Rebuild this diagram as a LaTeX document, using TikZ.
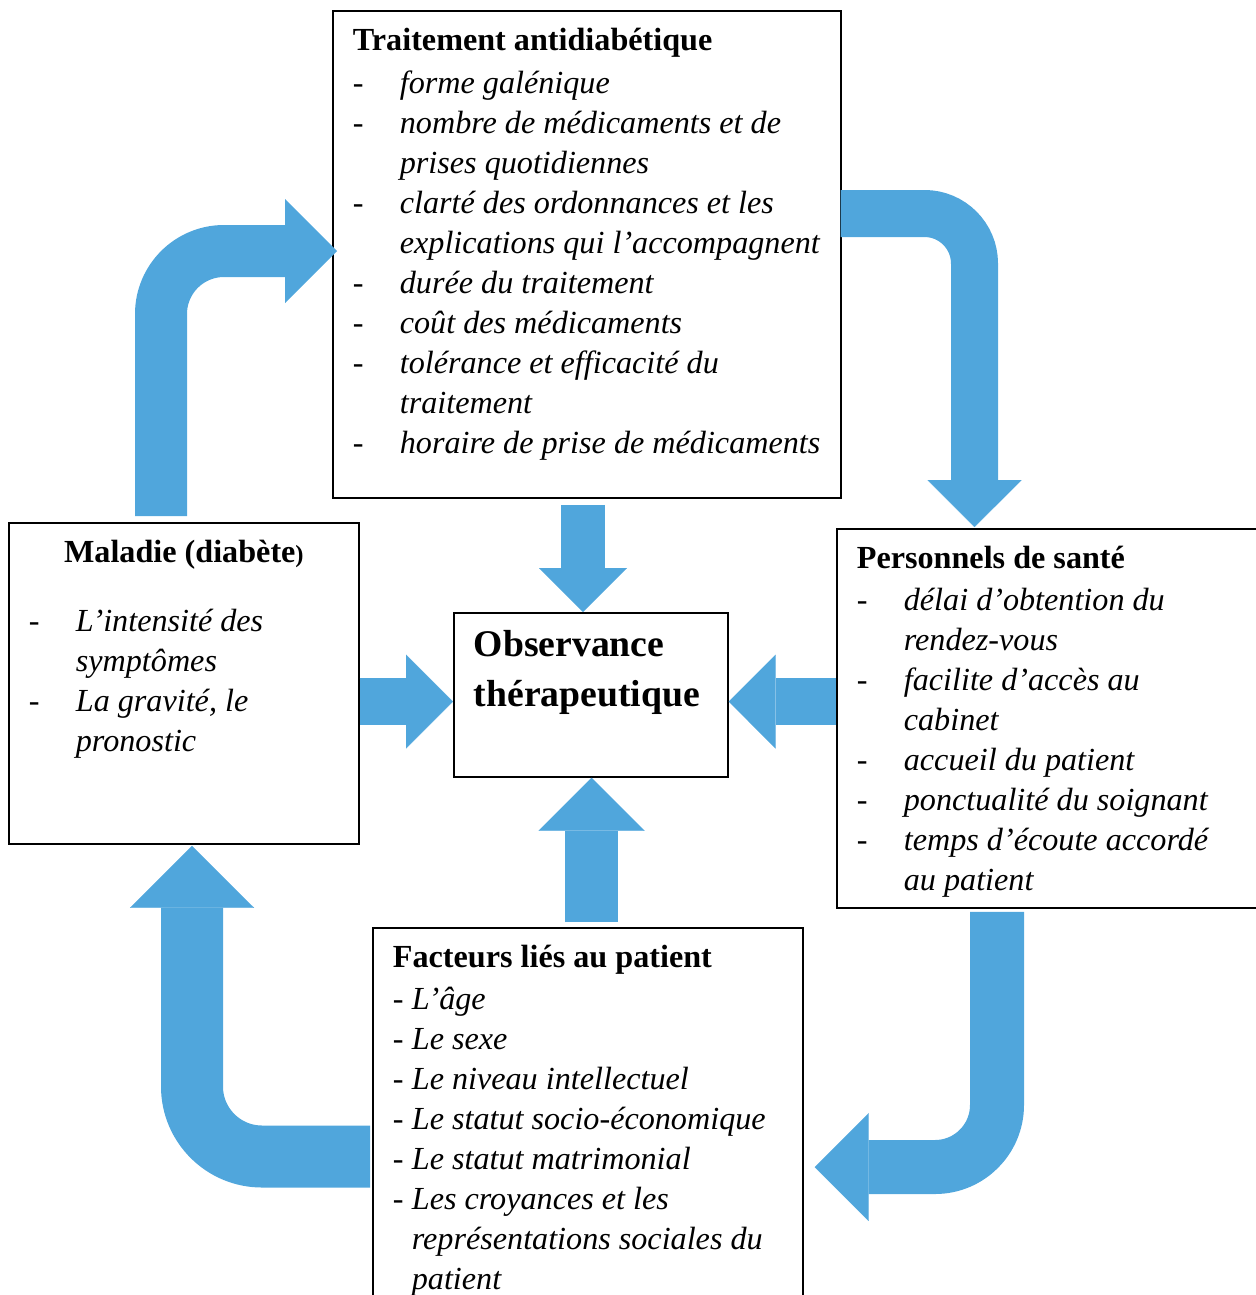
\documentclass[tikz,border=0pt]{standalone}
\usepackage{fontspec}
\setmainfont{Liberation Serif}
\usetikzlibrary{arrows.meta,calc}
\newdimen\pxu \pxu=0.345pt
\definecolor{flowblue}{RGB}{80,166,220}
% box content: width, height (px), text
\newcommand{\boxtxt}[3]{\parbox[t][#2\pxu][t]{#1\pxu}{\raggedright #3}}
\newcommand{\itm}[1]{\par\noindent\hangindent=47\pxu\hangafter=1\makebox[47\pxu][l]{-}\textit{#1}}
\newcommand{\ptm}[1]{\par\noindent\hangindent=19\pxu\hangafter=1\makebox[19\pxu][l]{-}\textit{#1}}
\tikzset{
  box/.style={draw, line width=0.6pt, fill=white, anchor=north west,
    inner xsep=20*\pxu, inner ysep=17*\pxu, font=\fontsize{11.1}{13.8}\selectfont},
  flow/.style={/utils/exec={\pgfmathsetlengthmacro\flowlw{#1*\pxu}%
      \pgfmathsetlengthmacro\flowhw{2*#1*\pxu}},
    draw=flowblue, line width=\flowlw,
    -{Triangle[length=\flowlw, width=\flowhw, line width=0.01pt]}},
  bend/.style={rounded corners=#1*0.345pt}
}
\begin{document}
\begin{tikzpicture}[x=0.345pt, y=-0.345pt]
\useasboundingbox (0,0) rectangle (1256,1295);
\clip (0,0) rectangle (1256,1295);
\node[box] (trait) at (332,10) {\boxtxt{468}{453}{%
  \textbf{Traitement antidiabétique}\par\vspace{3\pxu}
  \itm{forme galénique}
  \itm{nombre de médicaments et de\newline prises quotidiennes}
  \itm{clarté des ordonnances et les\newline explications qui l’accompagnent}
  \itm{durée du traitement}
  \itm{coût des médicaments}
  \itm{tolérance et efficacité du\newline traitement}
  \itm{horaire de prise de médicaments}}};
\node[box] (mal) at (8,522) {\boxtxt{310}{287}{%
  {\centering\textbf{Maladie (diabète}{\fontsize{8.5}{10}\selectfont\textbf{)}}\par}
  \vspace{29\pxu}
  \itm{L’intensité des\newline symptômes}
  \itm{La gravité, le\newline pronostic}}};
\node[box] (obs) at (453,612) {\boxtxt{234}{130}{%
  \fontsize{13}{17.25}\selectfont\bfseries Observance\\thérapeutique}};
\node[box] (pers) at (836,528) {\boxtxt{400}{345}{%
  \textbf{Personnels de santé}\par\vspace{2\pxu}
  \itm{délai d’obtention du\newline rendez-vous}
  \itm{facilite d’accès au\newline cabinet}
  \itm{accueil du patient}
  \itm{ponctualité du soignant}
  \itm{temps d’écoute accordé\newline au patient}}};
\node[box] (fact) at (372,927) {\boxtxt{390}{366}{%
  \textbf{Facteurs liés au patient}\par\vspace{2\pxu}
  \ptm{L’âge}
  \ptm{Le sexe}
  \ptm{Le niveau intellectuel}
  \ptm{Le statut socio-économique}
  \ptm{Le statut matrimonial}
  \ptm{Les croyances et les\newline représentations sociales du\newline patient}}};
% loop of bent arrows
\draw[flow=52, bend=63] ($(mal.north west)+(153,-6)$) |- ($(trait.north west)+(5,241)$);
\draw[flow=47, bend=50] ($(trait.north east)+(-1,203.5)$) -| ($(pers.north west)+(138.5,-1)$);
\draw[flow=54, bend=62] ($(pers.south west)+(161,3)$) |- ($(fact.north east)+(11,240)$);
\draw[flow=62, bend=70] ($(fact.north west)+(-2,229.5)$) -| ($(mal.south west)+(184,1)$);
% straight arrows into the centre
\coordinate (tu) at ($(trait.south west)+(251,6)$);
\coordinate (ml) at ($(mal.north east)+(0,179.5)$);
\coordinate (pl) at ($(pers.north west)+(0,173.5)$);
\coordinate (fu) at ($(fact.north west)+(219.5,-5)$);
\draw[flow=44] (tu) -- (tu |- obs.north);
\draw[flow=47] (ml) -- (ml -| obs.west);
\draw[flow=47] (pl) -- (pl -| obs.east);
\draw[flow=53] (fu) -- (fu |- obs.south);
\end{tikzpicture}
\end{document}
